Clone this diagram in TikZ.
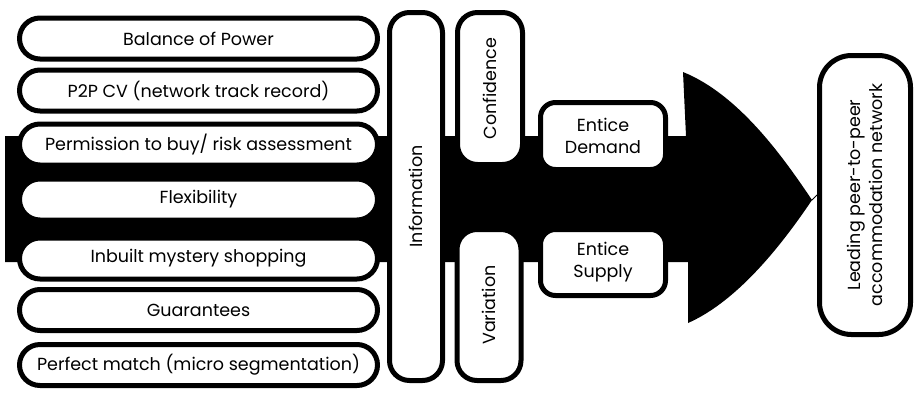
\documentclass[tikz,border=0pt]{standalone}
\usepackage{fontspec}
\setmainfont{Poppins}
\usetikzlibrary{shapes.misc}
\begin{document}
\begin{tikzpicture}[x=1pt, y=-1pt, line join=round, line cap=round,
 font=\fontsize{17.5}{22}\selectfont,
 pill/.style={draw, line width=5pt, fill=white, inner sep=0pt, align=center},
 bar/.style={pill, rounded rectangle, minimum width=358pt, minimum height=41pt},
 post/.style={pill, rotate=90, rounded corners=20pt},
 tile/.style={pill, rounded corners=15pt, minimum width=125pt}]
 \useasboundingbox (0,0) rectangle (917,392);
 % the big black arrow behind everything
 \fill (5,136) -- (686,136) -- (683,72) .. controls (740,95) and (785,160) .. (812,200)
   .. controls (785,240) and (740,300) .. (688,323) -- (688,262) -- (5,262) -- cycle;
 \coordinate (tip) at (812,200);
 % left column
 \foreach \y/\name/\txt in {38.5/bal/Balance of Power, 90.5/cv/P2P CV (network track record),
   144.5/perm/{Permission to buy/ risk assessment}, 199.5/flex/Flexibility,
   258.5/myst/Inbuilt mystery shopping, 310/guar/Guarantees,
   365/match/Perfect match (micro segmentation)}
 \node[bar] (\name) at (198.5,\y) {\txt};
 % middle posts
 \node[post, minimum width=368pt, minimum height=53pt] (info) at (416,196.5) {Information};
 \node[post, minimum width=152pt, minimum height=65pt] (conf) at (490,88.5) {Confidence};
 \node[post, minimum width=151pt, minimum height=64pt] (var) at (489,305) {Variation};
 \node[tile, minimum height=67pt] (demand) at (603,136) {Entice\\Demand};
 \node[tile, minimum height=66pt] (supply) at (603,262.5) {Entice\\Supply};
 % goal
 \node[post, rounded corners=32pt, minimum width=279pt, minimum height=91pt] (goal) at (865,195)
   {Leading peer-to-peer\\accommodation network};
 \draw[line width=1pt] (tip) -- (goal.north);
\end{tikzpicture}
\end{document}
